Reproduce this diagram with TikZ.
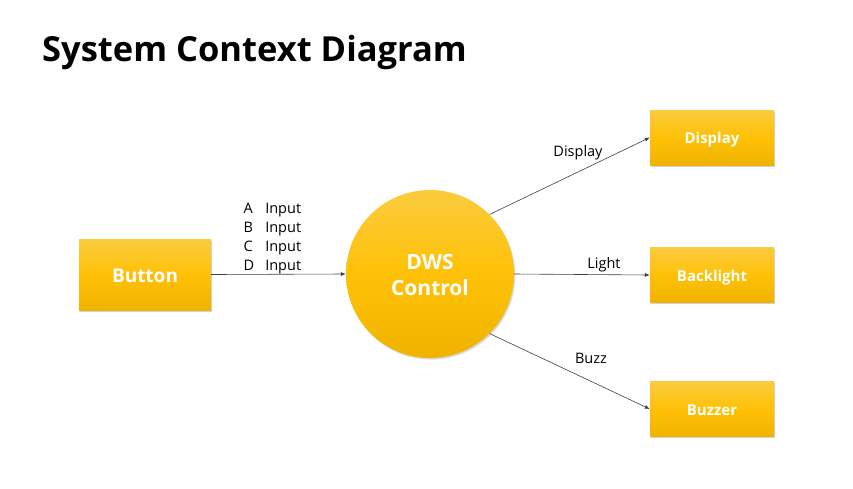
\documentclass[tikz,border=0pt]{standalone}
\usepackage{fontspec}
\setmainfont{Open Sans}
\usetikzlibrary{arrows.meta,shadows}

\definecolor{ytop}{HTML}{FACB3E}
\definecolor{ymid}{HTML}{FFC107}
\definecolor{ybot}{HTML}{EFB300}
\definecolor{wire}{HTML}{404040}

% lower a text visually without changing the size the node sees
\newcommand{\sinktext}[2]{\raisebox{-#1}[\height][\depth]{#2}}

\tikzset{
  unitbox/.style={draw=none, rectangle, minimum width=#1, minimum height=55pt,
    top color=ytop, bottom color=ybot, middle color=ymid,
    drop shadow={opacity=0.35, shadow xshift=1.2pt, shadow yshift=-1.6pt},
    text=white, font=\bfseries\fontsize{15}{18}\selectfont, inner sep=0pt},
  hub/.style={circle, draw=none, minimum size=168pt, inner sep=0pt,
    top color=ytop, bottom color=ybot, middle color=ymid,
    drop shadow={opacity=0.3, shadow xshift=1.2pt, shadow yshift=-1.6pt},
    text=white, align=center, font=\bfseries\fontsize{21}{25}\selectfont},
  flow/.style={draw=wire, line width=0.6pt, -{Latex[length=5pt,width=4pt]}},
  flowtext/.style={font=\fontsize{14.5}{19}\selectfont, text=black, inner sep=0pt}
}

\begin{document}
\begin{tikzpicture}[x=1pt,y=-1pt]
  \useasboundingbox[fill=white] (0,0) rectangle (853,488);

  % heading
  \node[anchor=base west, inner sep=0pt, font=\bfseries\fontsize{34.5}{40}\selectfont]
    (title) at (42,61) {System Context Diagram};

  % external entities and the controller
  \node[unitbox=132pt, minimum height=71pt, font=\bfseries\fontsize{19}{22}\selectfont]
    (button) at (145,274.5) {\sinktext{1.5pt}{Button}};
  \node[hub] (dws) at (430,274)
    {\sinktext{3.5pt}{\begin{tabular}{@{}c@{}}DWS\\[1.5pt]Control\end{tabular}}};
  \node[unitbox=124pt] (display) at (712,137.5) {\sinktext{2pt}{Display}};
  \node[unitbox=124pt] (backlight) at (712,275) {\sinktext{2.5pt}{Backlight}};
  \node[unitbox=124pt] (buzzer) at (712,409) {\sinktext{1.5pt}{Buzzer}};

  % data flows
  \draw[flow] (button.east) -- (dws.west);
  \draw[flow] (dws.45) -- (display.west);
  \draw[flow] (dws.east) -- (backlight.west);
  \draw[flow] (dws.-45) -- (buzzer.west);

  % flow labels
  \node[flowtext, anchor=base west] (inputs) at (243.5,213)
    {\begin{tabular}[t]{@{}l@{\hspace{11pt}}l@{}}
      A & Input\\ B & Input\\ C & Input\\ D & Input
     \end{tabular}};
  \node[flowtext] (lbldisplay) at (578,153) {Display};
  \node[flowtext] (lbllight) at (604,265) {Light};
  \node[flowtext] (lblbuzz) at (591,358) {Buzz};
\end{tikzpicture}
\end{document}
